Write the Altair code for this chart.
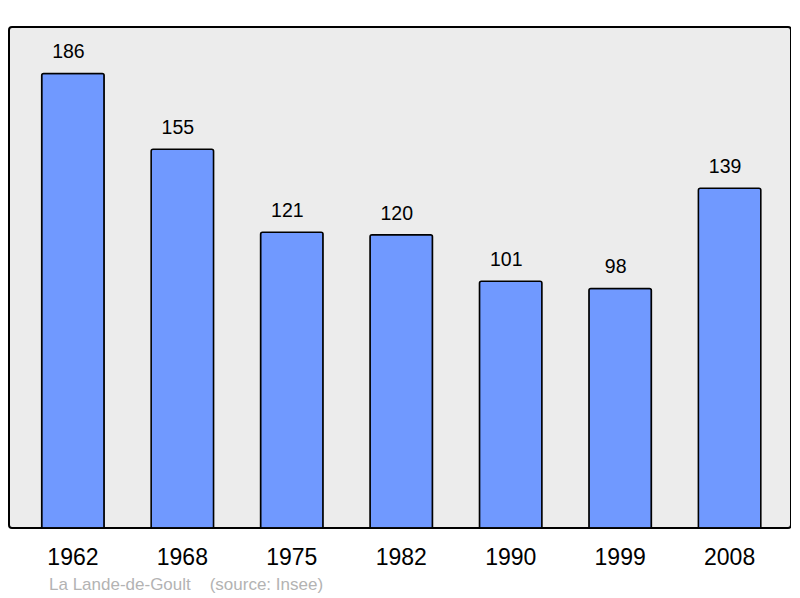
import altair as alt
import pandas as pd

years = ["1962", "1968", "1975", "1982", "1990", "1999", "2008"]
population = [186, 155, 121, 120, 101, 98, 139]
caption = "La Lande-de-Goult\u00a0\u00a0\u00a0\u00a0(source: Insee)"

df = pd.DataFrame({"year": years, "pop": population})

x = alt.X("year:N", sort=years, title=None,
          scale=alt.Scale(paddingInner=0.429, paddingOuter=0.287, align=0.52),
          axis=alt.Axis(labelAngle=0, labelFontSize=23, labelColor="black",
                        labelFont="Liberation Sans", labelPadding=18,
                        domain=False, ticks=False, grid=False))
y = alt.Y("pop:Q", title=None, scale=alt.Scale(domain=[0, 205], nice=False, zero=True),
          axis=None)

bars = alt.Chart(df).mark_bar(
    color="#7099ff", stroke="black", strokeWidth=1.5,
    cornerRadiusTopLeft=2, cornerRadiusTopRight=2
).encode(x=x, y=y)

labels = alt.Chart(df).mark_text(
    baseline="alphabetic", dx=-4.5, dy=-15, fontSize=19.5, font="Liberation Sans", color="black"
).encode(x=x, y=y, text="pop:Q")

cap = alt.Chart(pd.DataFrame({"t": [caption]})).mark_text(
    align="left", baseline="alphabetic", fontSize=17, font="Liberation Sans", color="#b3b3b3"
).encode(x=alt.value(40), y=alt.value(563), text="t:N")

chart = alt.layer(bars, labels, cap).properties(
    width=782, height=501,
    autosize=alt.AutoSizeParams(type="none"),
    padding={"left": 1, "top": 19, "right": 0, "bottom": 70},
    background="white"
).configure_view(
    fill="#ececec", stroke="black", strokeWidth=2, cornerRadius=3
)

chart.save("out.html", embed_options={"renderer": "svg", "actions": False})
